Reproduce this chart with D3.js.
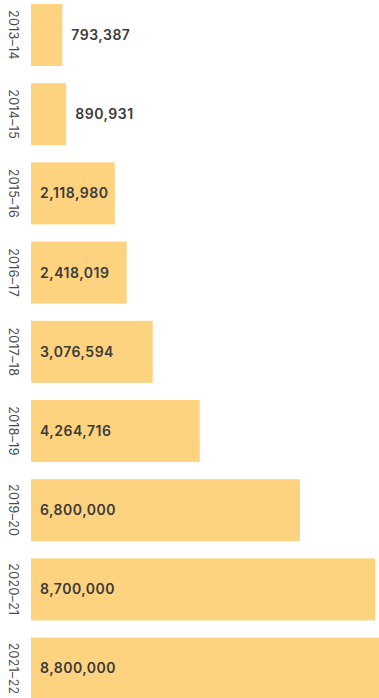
<!DOCTYPE html>
<meta charset="utf-8">
<style>
body { margin: 0; background: #fff; }
svg { display: block; }
.year { font-family: Inter, sans-serif; font-size: 12.5px; fill: #4a4a4a; letter-spacing: 0.3px; }
.value { font-family: Inter, sans-serif; font-size: 14px; font-weight: 600; fill: #3a3a3a; letter-spacing: 0.5px; }
</style>
<svg width="379" height="698"></svg>
<script src="https://d3js.org/d3.v7.min.js"></script>
<script>
// years and counts
var years = ["2013–14", "2014–15", "2015–16", "2016–17", "2017–18", "2018–19", "2019–20", "2020–21", "2021–22"];
var counts = [793387, 890931, 2118980, 2418019, 3076594, 4264716, 6800000, 8700000, 8800000];

var svg = d3.select("svg"),
  width = +svg.attr("width"),
  height = +svg.attr("height");

var left = 31;

var x = d3.scaleLinear().domain([0, 8800000]).range([0, 348]);
// step ~79px, bar ~62px
var y = d3.scaleBand().domain(years).range([4, 699.6]).paddingInner(0.217).paddingOuter(0);

var data = years.map(function(d, i) { return {year: d, count: counts[i]}; });

var fmt = d3.format(",");

var g = svg.append("g").attr("transform", "translate(" + left + ",0)");

g.selectAll("rect")
  .data(data)
  .enter()
  .append("rect")
  .attr("x", 0)
  .attr("y", d => y(d.year))
  .attr("width", d => x(d.count))
  .attr("height", y.bandwidth())
  .attr("fill", "#fdd37f");

// value labels: outside the bar when it is too short
g.selectAll("text.value")
  .data(data)
  .enter()
  .append("text")
  .attr("class", "value")
  .attr("x", d => x(d.count) < 80 ? x(d.count) + 9 : 9)
  .attr("y", d => y(d.year) + y.bandwidth() / 2)
  .attr("dy", "0.35em")
  .text(d => fmt(d.count));

// rotated year labels
svg.selectAll("text.year")
  .data(data)
  .enter()
  .append("text")
  .attr("class", "year")
  .attr("text-anchor", "middle")
  .attr("dy", "0.35em")
  .attr("transform", d => "translate(13," + (y(d.year) + y.bandwidth() / 2) + ") rotate(90)")
  .text(d => d.year);
</script>
